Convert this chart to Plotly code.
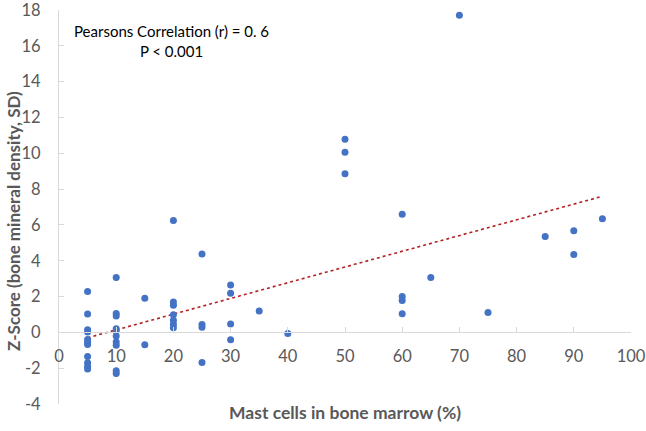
import plotly.graph_objects as go

# Data
mast_cells = (
    [5] * 11 + [10] * 10 + [15] * 2 + [20] * 7 + [25] * 4 + [30] * 4 +
    [35, 40] + [50] * 3 + [60] * 4 + [65, 70, 75, 85] + [90] * 2 + [95]
)
z_score = (
    [2.28, 1.02, 0.15, 0.02, -0.40, -0.55, -0.68, -1.35, -1.70, -1.90, -2.05] +
    [3.07, 1.06, 0.92, 0.20, 0.08, -0.20, -0.54, -0.72, -2.15, -2.30] +
    [1.91, -0.69] +
    [6.25, 1.69, 1.52, 0.98, 0.67, 0.46, 0.26] +
    [4.37, 0.44, 0.28, -1.68] +
    [2.65, 2.19, 0.47, -0.41] +
    [1.19, -0.07] +
    [10.78, 10.06, 8.85] +
    [6.59, 2.00, 1.78, 1.04] +
    [3.07, 17.70, 1.11, 5.35] +
    [5.67, 4.35] +
    [6.35]
)
trend_x = [5, 95]
trend_y = [-0.30, 7.60]

x_ticks = [0, 10, 20, 30, 40, 50, 60, 70, 80, 90, 100]
y_ticks = [-4, -2, 0, 2, 4, 6, 8, 10, 12, 14, 16, 18]
y_tick_labels = [str(v) for v in y_ticks]  # plain hyphen minus, as in the reference

FONT = "Lato"
GRAY = "#595959"
AXIS = "#D9D9D9"

T, B = 10, 27
PH = 431 - T - B

fig = go.Figure()
fig.add_trace(go.Scatter(
    x=trend_x, y=trend_y, mode="lines",
    line=dict(color="#B22222", width=1.6, dash="dot"),
    hoverinfo="skip", showlegend=False,
))
fig.add_trace(go.Scatter(
    x=mast_cells, y=z_score, mode="markers",
    marker=dict(color="#4472C4", size=7),
    showlegend=False,
))

y_min, y_max = -4, 18
zero_pos = (0 - y_min) / (y_max - y_min)

fig.update_layout(
    template="none",
    width=646, height=431,
    margin=dict(l=59, r=15, t=T, b=B, autoexpand=False),
    paper_bgcolor="white", plot_bgcolor="white",
    font=dict(family=FONT, color=GRAY),
    xaxis=dict(
        range=[0, 100], tickvals=x_ticks, showgrid=False, zeroline=False,
        showline=True, linecolor=AXIS, linewidth=1, automargin=False,
        ticks="inside", ticklen=5, tickcolor=AXIS,
        anchor="free", position=zero_pos,
        tickfont=dict(size=16.5, color=GRAY, family=FONT),
        ticklabelstandoff=9, ticklabeloverflow="allow",
    ),
    yaxis=dict(
        range=[y_min, y_max], tickvals=y_ticks, ticktext=y_tick_labels,
        showgrid=False, zeroline=False, automargin=False,
        showline=True, linecolor=AXIS, linewidth=1,
        ticks="inside", ticklen=5, tickcolor=AXIS,
        tickfont=dict(size=16.5, color=GRAY, family=FONT),
        ticklabelstandoff=14, ticklabeloverflow="allow",
    ),
    annotations=[
        dict(text="Pearsons Correlation (r) = 0. 6<br>P < 0.001",
             xref="paper", yref="paper", x=(171 - 59) / 572, y=1 - (40.5 - T) / PH,
             xanchor="center", yanchor="middle", showarrow=False, align="center",
             font=dict(size=15, color="black", family=FONT)),
        dict(text="<b>Mast cells in bone marrow (%)</b>",
             xref="paper", yref="paper", x=0.5, y=-(412 - (431 - B)) / PH,
             xanchor="center", yanchor="middle", showarrow=False,
             font=dict(size=17.5, color=GRAY, family=FONT)),
        dict(text="<b>Z-Score (bone mineral density, SD)</b>",
             xref="paper", yref="paper", x=(13 - 59) / 572, y=((431 - B) - 221) / PH,
             xanchor="center", yanchor="middle", showarrow=False, textangle=-90,
             font=dict(size=17, color=GRAY, family=FONT)),
    ],
)

fig.write_html("out.html", config={"displayModeBar": False},
               post_script="document.body.style.margin='0px';")
